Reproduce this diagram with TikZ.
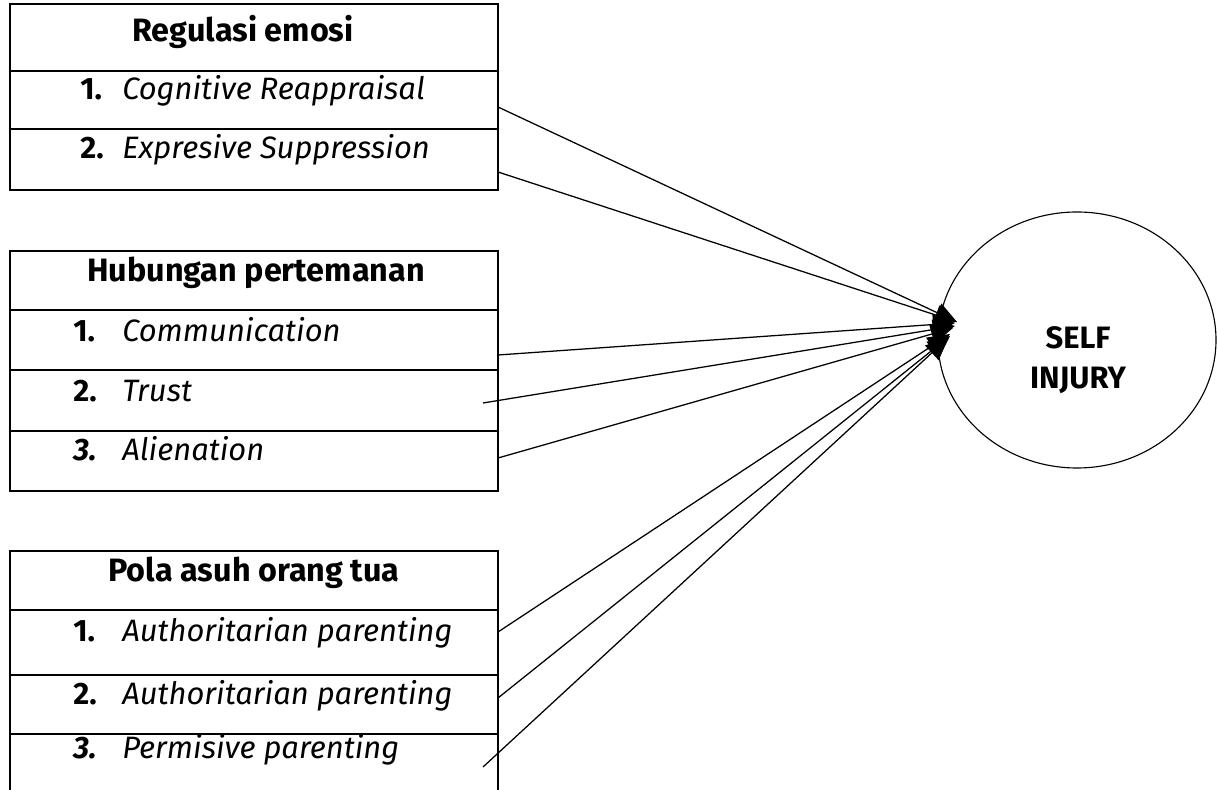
\documentclass[tikz,border=0pt]{standalone}
\usepackage{fontspec}
\setmainfont{Fira Sans}
\usetikzlibrary{arrows.meta,shapes.geometric}

\tikzset{
  box/.style={line width=1.3pt},
  head/.style={anchor=base, inner sep=0pt, font=\fontsize{23}{28}\selectfont\bfseries},
  num/.style={anchor=base west, inner sep=0pt, font=\fontsize{22}{26}\selectfont\bfseries},
  item/.style={anchor=base west, inner sep=0pt, font=\fontsize{22}{26}\selectfont\itshape},
  link/.style={-{Triangle[length=0.55cm,width=0.5cm]}, line width=0.9pt},
}

\begin{document}
\begin{tikzpicture}
\clip (0,0) rectangle (30.425,19.75);

% Regulasi emosi
\draw[box] (0.25,15.0) rectangle (12.45,19.65);
\draw[box] (0.25,17.975) -- (12.45,17.975);
\draw[box] (0.25,16.525) -- (12.45,16.525);
\node[head] (re) at (6.075,18.7) {Regulasi emosi};
\node[num] (re1n) at (2.0,17.25) {1.};
\node[item] (re1) at (3.05,17.25) {Cognitive Reappraisal};
\node[num] (re2n) at (2.0,15.775) {2.};
\node[item] (re2) at (3.05,15.775) {Expresive Suppression};

% Hubungan pertemanan
\draw[box] (0.25,7.475) rectangle (12.45,13.475);
\draw[box] (0.25,12.0) -- (12.45,12.0);
\draw[box] (0.25,10.5) -- (12.45,10.5);
\draw[box] (0.25,8.975) -- (12.45,8.975);
\node[head] (hp) at (6.4,12.7) {Hubungan pertemanan};
\node[num] (hp1n) at (1.825,11.2) {1.};
\node[item] (hp1) at (3.05,11.2) {Communication};
\node[num] (hp2n) at (1.825,9.7) {2.};
\node[item] (hp2) at (3.05,9.7) {Trust};
\node[num, font=\fontsize{22}{26}\selectfont\bfseries\itshape] (hp3n) at (1.825,8.225) {3.};
\node[item] (hp3) at (3.05,8.225) {Alienation};

% Pola asuh orang tua
\draw[box] (0.25,-0.5) -- (0.25,5.975) -- (12.45,5.975) -- (12.45,-0.5);
\draw[box] (0.25,4.5) -- (12.45,4.5);
\draw[box] (0.25,2.875) -- (12.45,2.875);
\draw[box] (0.25,1.4) -- (12.45,1.4);
\node[head] (pa) at (6.35,5.2) {Pola asuh orang tua};
\node[num] (pa1n) at (1.825,3.7) {1.};
\node[item] (pa1) at (3.05,3.7) {Authoritarian parenting};
\node[num] (pa2n) at (1.825,2.125) {2.};
\node[item] (pa2) at (3.05,2.125) {Authoritarian parenting};
\node[num, font=\fontsize{22}{26}\selectfont\bfseries\itshape] (pa3n) at (1.825,0.775) {3.};
\node[item] (pa3) at (3.05,0.775) {Permisive parenting};

% Self injury
\node[draw, ellipse, line width=0.8pt, minimum width=6.95cm, minimum height=6.4cm] (si) at (26.925,11.25) {};
\node[align=center, font=\fontsize{22}{28}\selectfont\bfseries] (sit) at (26.95,10.75) {SELF\\INJURY};

% start and end points
\coordinate (s1) at (12.45,17.075);
\coordinate (s2) at (12.45,15.45);
\coordinate (s3) at (12.45,10.875);
\coordinate (s4) at (12.075,9.675);
\coordinate (s5) at (12.45,8.3);
\coordinate (s6) at (12.45,3.95);
\coordinate (s7) at (12.45,2.3);
\coordinate (s8) at (12.075,0.575);
\coordinate (t1) at (23.925,11.7);
\coordinate (t2) at (23.925,11.7);
\coordinate (t3) at (23.875,11.675);
\coordinate (t4) at (23.875,11.6);
\coordinate (t5) at (23.825,11.55);
\coordinate (t6) at (23.75,11.4);
\coordinate (t7) at (23.75,11.35);
\coordinate (t8) at (23.7,11.3);

\foreach \i in {1,...,8}
  \draw[link] (s\i) -- (t\i);
\end{tikzpicture}
\end{document}
